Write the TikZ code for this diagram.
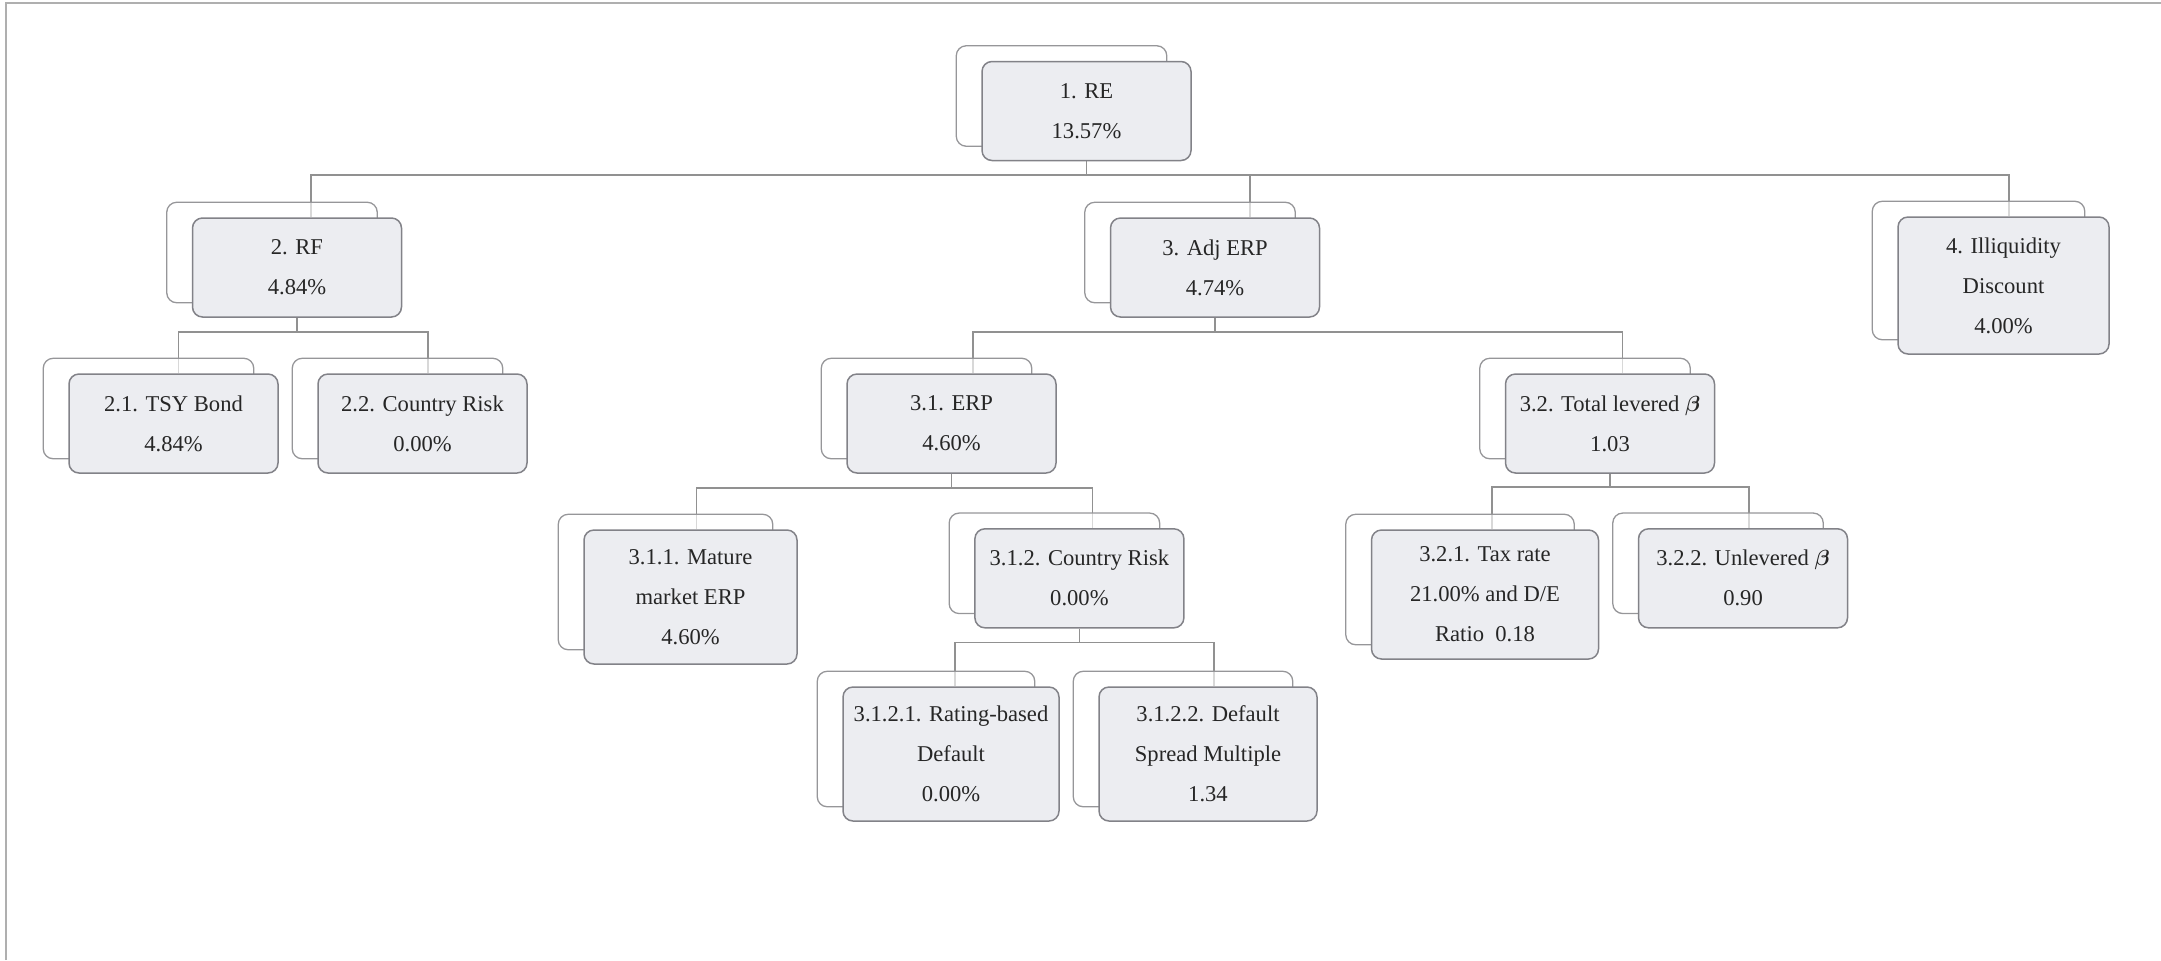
\documentclass[tikz,border=0pt]{standalone}
\usepackage{amsmath}
\usepackage{amssymb}
\usepackage{fontspec}
\setmainfont{Liberation Serif}
\usetikzlibrary{backgrounds}

\definecolor{cardfill}{RGB}{236,237,241}
\definecolor{cardline}{RGB}{130,130,136}
\definecolor{backline}{RGB}{150,150,153}
\definecolor{linkgray}{RGB}{145,145,145}
\definecolor{framegray}{RGB}{175,175,175}

\begin{document}
\begin{tikzpicture}[x=0.5pt, y=-0.5pt, card/.style={rectangle, rounded corners=5pt, draw=cardline, line width=0.75pt, fill=cardfill, align=center, inner sep=0pt, minimum width=104.5pt, minimum height=49.5pt, text=black!85, font=\fontsize{11.3}{20}\selectfont}, backcard/.style={rounded corners=5pt, draw=backline, line width=0.65pt, fill=white, fill opacity=0.65}, link/.style={draw=linkgray, line width=0.9pt}]

  \useasboundingbox (0,0) rectangle (2161,960);
  \draw[framegray, line width=1pt] (6,960) -- (6,3) -- (2161,3);

  % top
  \node[card] (re) at (1086.5,111) {1. RE\\13.57\%};

  % second row
  \node[card] (rf) at (297,267.5) {2. RF\\4.84\%};
  \node[card] (adjerp) at (1215,267.5) {3. Adj ERP\\4.74\%};
  \node[card, minimum width=105.5pt, minimum height=68.5pt] (illiq) at (2003.5,285.5) {4. Illiquidity\\Discount\\4.00\%};

  % third row
  \node[card] (tsy) at (173.5,423.5) {2.1. TSY Bond\\4.84\%};
  \node[card] (crrf) at (422.5,423.5) {2.2. Country Risk\\0.00\%};
  \node[card] (erp) at (951.5,423.5) {3.1. ERP\\4.60\%};
  \node[card] (totbeta) at (1610,423.5) {3.2. Total levered $\boldsymbol{\beta}$\\1.03};

  % fourth row
  \node[card, minimum width=106.5pt, minimum height=67pt] (mature) at (690.5,597) {3.1.1. Mature\\market ERP\\4.60\%};
  \node[card] (crerp) at (1079.4,578.3) {3.1.2. Country Risk\\0.00\%};
  \node[card, minimum width=113.5pt, minimum height=64.5pt] (tax) at (1485,594.5) {3.2.1. Tax rate\\21.00\% and D/E\\Ratio\ \ 0.18};
  \node[card] (unlev) at (1743,578.3) {3.2.2. Unlevered $\boldsymbol{\beta}$\\0.90};

  % fifth row
  \node[card, minimum width=108pt, minimum height=67pt] (rating) at (951,754) {3.1.2.1. Rating-based\\Default\\0.00\%};
  \node[card, minimum width=109pt, minimum height=67pt] (spread) at (1208,754) {3.1.2.2. Default\\Spread Multiple\\1.34};

  \begin{scope}[on background layer]
    % connectors
    \draw[link] (re.south) -- ++(0,14) -| ([xshift=7pt]rf.north);
    \draw[link] (re.south) -- ++(0,14) -| ([xshift=17.5pt]adjerp.north);
    \draw[link] (re.south) -- ++(0,14) -| ([xshift=2.75pt]illiq.north);
    \draw[link] (rf.south) -- ++(0,14) -| ([xshift=2.5pt]tsy.north);
    \draw[link] (rf.south) -- ++(0,14) -| ([xshift=2.75pt]crrf.north);
    \draw[link] (adjerp.south) -- ++(0,14) -| ([xshift=10.75pt]erp.north);
    \draw[link] (adjerp.south) -- ++(0,14) -| ([xshift=6.25pt]totbeta.north);
    \draw[link] (erp.south) -- ++(0,14) -| ([xshift=3pt]mature.north);
    \draw[link] (erp.south) -- ++(0,14) -| ([xshift=6.5pt]crerp.north);
    \draw[link] (totbeta.south) -- ++(0,13) -| ([xshift=3.5pt]tax.north);
    \draw[link] (totbeta.south) -- ++(0,13) -| ([xshift=3pt]unlev.north);
    \draw[link] (crerp.south) -- ++(0,14) -| ([xshift=2pt]rating.north);
    \draw[link] (crerp.south) -- ++(0,14) -| ([xshift=3pt]spread.north);
    % shadow cards
    \foreach \n in {re,rf,adjerp,illiq,tsy,crrf,erp,totbeta,mature,crerp,tax,unlev,rating,spread}
      \draw[backcard] ([shift={(-25,-15)}]\n.south west) rectangle ([shift={(-25,-15)}]\n.north east);
  \end{scope}
\end{tikzpicture}
\end{document}
